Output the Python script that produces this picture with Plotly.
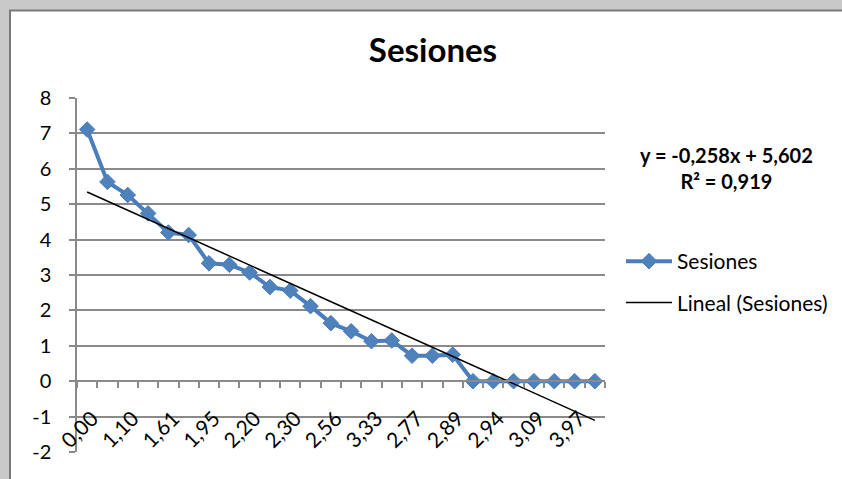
import plotly.graph_objects as go

# Session counts per bucket (26 buckets); only every other bucket is labelled
tick_labels = ["0,00", "1,10", "1,61", "1,95", "2,20", "2,30", "2,56",
               "3,33", "2,77", "2,89", "2,94", "3,09", "3,97"]
y_ticks = [-2, -1, 0, 1, 2, 3, 4, 5, 6, 7, 8]
sesiones = [7.11, 5.63, 5.26, 4.74, 4.20, 4.13, 3.33, 3.29, 3.07, 2.66,
            2.56, 2.12, 1.64, 1.41, 1.13, 1.15, 0.72, 0.72, 0.75,
            0, 0, 0, 0, 0, 0, 0]

# Linear trend stated on the chart: y = -0,258x + 5,602 ; R² = 0,919
slope = -0.258
intercept = 5.602
r2 = 0.919

n = len(sesiones)
xs = list(range(1, n + 1))
trend = [slope * x + intercept for x in xs]

W, H = 842, 479
ML, MR, MT, MB = 77, 237, 98, 27
PW, PH = W - ML - MR, H - MT - MB
FONT = "Lato"
GRID = "#8a8a8a"


def px_x(p):
    return (p - ML) / PW


def px_y(p):
    return (H - MB - p) / PH


def comma(v, d=3):
    return f"{v:.{d}f}".replace(".", ",")


fig = go.Figure()
fig.add_trace(go.Scatter(
    x=xs, y=sesiones, name="Sesiones", mode="lines+markers",
    line=dict(color="#4A7EBB", width=4),
    marker=dict(symbol="diamond", size=12, color="#4F81BD",
                line=dict(color="#4A7EBB", width=1)),
    legendgroup="a",
))
fig.add_trace(go.Scatter(
    x=xs, y=trend, name="Lineal (Sesiones)", mode="lines",
    line=dict(color="black", width=1.5),
    legendgroup="b",
))

y_min, y_max = y_ticks[0], y_ticks[-1]
zero_pos = (0 - y_min) / (y_max - y_min)

fig.update_layout(
    width=W, height=H, autosize=False,
    margin=dict(l=ML, r=MR, t=MT, b=MB),
    paper_bgcolor="#c9c9c9",
    plot_bgcolor="white",
    font=dict(family=FONT, color="black", size=19),
    title=dict(text="<b>Sesiones</b>", font=dict(family=FONT, size=33, color="black"),
               x=433 / W, xref="container", xanchor="center",
               y=1 - 50 / H, yref="container", yanchor="middle"),
    showlegend=True,
    legend=dict(x=621 / W, xref="container", xanchor="left",
                y=1 - 241 / H, yref="container", yanchor="top",
                font=dict(family=FONT, size=21, color="black"),
                bgcolor="rgba(0,0,0,0)", tracegroupgap=11,
                itemwidth=46),
    shapes=[
        dict(type="rect", xref="paper", yref="paper", layer="below",
             x0=px_x(10), x1=px_x(900), y0=px_y(560), y1=px_y(10.5),
             fillcolor="white", line=dict(color="#7a7a7a", width=2)),
    ],
    annotations=[
        dict(text=f"<b>y = {comma(slope)}x + {comma(intercept)}</b>"
             f"<br><b>R² = {comma(r2)}</b>",
             xref="paper", yref="paper", x=px_x(726), y=px_y(168),
             xanchor="center", yanchor="middle", showarrow=False,
             font=dict(family=FONT, size=20, color="black"), align="center"),
    ],
)

fig.update_yaxes(
    range=[y_min, y_max],
    tickmode="array", tickvals=y_ticks, ticktext=[str(v) for v in y_ticks],
    showgrid=True, gridcolor=GRID, gridwidth=1.5,
    showline=True, linecolor=GRID, linewidth=1.5,
    ticks="outside", ticklen=6, tickcolor=GRID, tickwidth=1.5,
    ticklabelstandoff=14, zeroline=False,
    tickfont=dict(family=FONT, size=20, color="black"),
)

fig.update_xaxes(
    range=[0.5, n + 0.5],
    anchor="free", position=zero_pos,
    tickmode="array", tickvals=xs[::2], ticktext=tick_labels,
    tickangle=-45, ticks="", showgrid=False, zeroline=False,
    showline=True, linecolor=GRID, linewidth=1.5,
    ticklabelstandoff=16, ticklabelshift=5,
    tickfont=dict(family=FONT, size=21, color="black"),
    minor=dict(tickmode="array", tickvals=[x + 0.5 for x in range(0, n + 1)],
               ticks="outside", ticklen=6, tickcolor=GRID, tickwidth=1.5,
               showgrid=False),
)

fig.write_html("out.html")
